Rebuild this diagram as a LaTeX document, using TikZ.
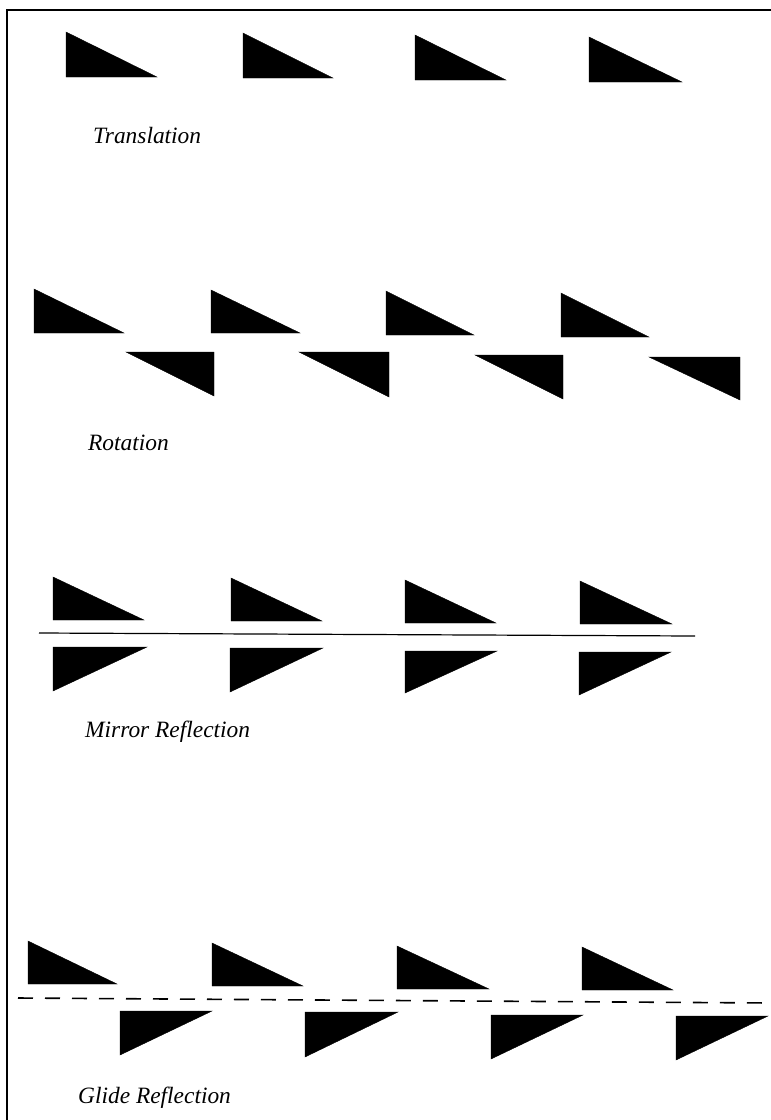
\documentclass[tikz,border=0pt]{standalone}
\usepackage{fontspec}
\setmainfont{Liberation Serif}
\usepackage{tikz}
\usetikzlibrary{positioning}

\begin{document}
\begin{tikzpicture}[x=1pt, y=-1pt,
    tri/.style={fill=black, draw=black, line width=0.4pt},
    rotulo/.style={font=\fontsize{23.4}{28}\selectfont\itshape, anchor=base west, inner sep=0pt}]
    \useasboundingbox (0,0) rectangle (771,1120);

    % Moldura
    \draw[line width=2pt] (7,1120) -- (7,9.5) -- (771,9.5);

    % Translation
    \foreach \l/\r/\t/\b in {66/157/32/77, 243/333/33/78, 415/506/35/80, 589/682/37/82} {
        \fill[tri] (\l,\t) -- (\l,\b) -- (\r,\b) -- cycle;
    }
    \node[rotulo] (translation) at (93,143) {Translation};

    % Rotation (em cima)
    \foreach \l/\r/\t/\b in {34/124/289/333, 211/300/290/333, 386/474/291/335, 561/649/293/337} {
        \fill[tri] (\l,\t) -- (\l,\b) -- (\r,\b) -- cycle;
    }
    % Rotation (embaixo)
    \foreach \l/\r/\t/\b in {126/214/352/396, 299/389/352/397, 475/563/355/399, 649/740/357/400} {
        \fill[tri] (\l,\t) -- (\r,\t) -- (\r,\b) -- cycle;
    }
    \node[rotulo] (rotation) at (88,450) {Rotation};

    % Mirror reflection
    \foreach \l/\r/\t/\b in {53/144/577/620, 231/322/578/621, 405/496/580/623, 580/672/581/624} {
        \fill[tri] (\l,\t) -- (\l,\b) -- (\r,\b) -- cycle;
    }
    \draw[line width=1.2pt] (39,633) -- (695,636);
    \foreach \l/\r/\t/\b in {53/147/647/691, 230/323/648/692, 405/497/651/693, 579/671/652/695} {
        \fill[tri] (\l,\t) -- (\r,\t) -- (\l,\b) -- cycle;
    }
    \node[rotulo] (mirror) at (85,737) {Mirror Reflection};

    % Glide reflection
    \foreach \l/\r/\t/\b in {28/117/941/984, 212/303/943/986, 397/489/946/989, 582/673/947/990} {
        \fill[tri] (\l,\t) -- (\l,\b) -- (\r,\b) -- cycle;
    }
    \draw[line width=1.6pt, dash pattern=on 15pt off 12pt] (18,998) -- (771,1003);
    \foreach \l/\r/\t/\b in {120/212/1011/1055, 305/398/1012/1057, 491/583/1015/1059, 676/768/1016/1060} {
        \fill[tri] (\l,\t) -- (\r,\t) -- (\l,\b) -- cycle;
    }
    \node[rotulo] (glide) at (78,1103) {Glide Reflection};
\end{tikzpicture}
\end{document}
